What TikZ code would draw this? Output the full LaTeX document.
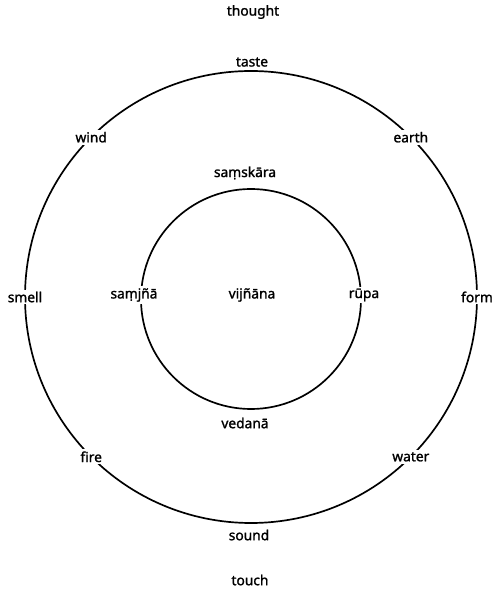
\documentclass[tikz,border=0pt]{standalone}
\usepackage{fontspec}
\setmainfont{Noto Sans}[FakeBold=1.4]
\usepackage{tikz}

\begin{document}
\begin{tikzpicture}[x=0.025cm,y=0.025cm,
    font=\fontsize{9.8}{11}\selectfont,
    onring/.style={fill=white,inner sep=1.5pt}]
  \useasboundingbox (-251,-293) rectangle (241,297);
  % the two rings
  \draw[line width=1.2pt] (0,0) circle (226);
  \draw[line width=1.2pt] (0,-2) circle (110);
  % elements on the outer ring
  \foreach \a/\n in {0/form,45/earth,135/wind,180/smell,225/fire,315/water}{
    \node[onring] (\n) at (\a:226) {\n};
  }
  \node (taste) at (1,235) {taste};
  \node (sound) at (-2,-238) {sound};
  \node (thought) at (2,285) {thought};
  \node (touch) at (-1,-283) {touch};
  % the inner ring
  \node (samskara) at (-6,124) {saṃskāra};
  \node (vedana) at (-6,-126) {vedanā};
  \node[onring] (samjna) at (-117,2) {saṃjñā};
  \node[onring] (rupa) at (113,2) {rūpa};
  \node (vijnana) at (1,2) {vijñāna};
\end{tikzpicture}
\end{document}
